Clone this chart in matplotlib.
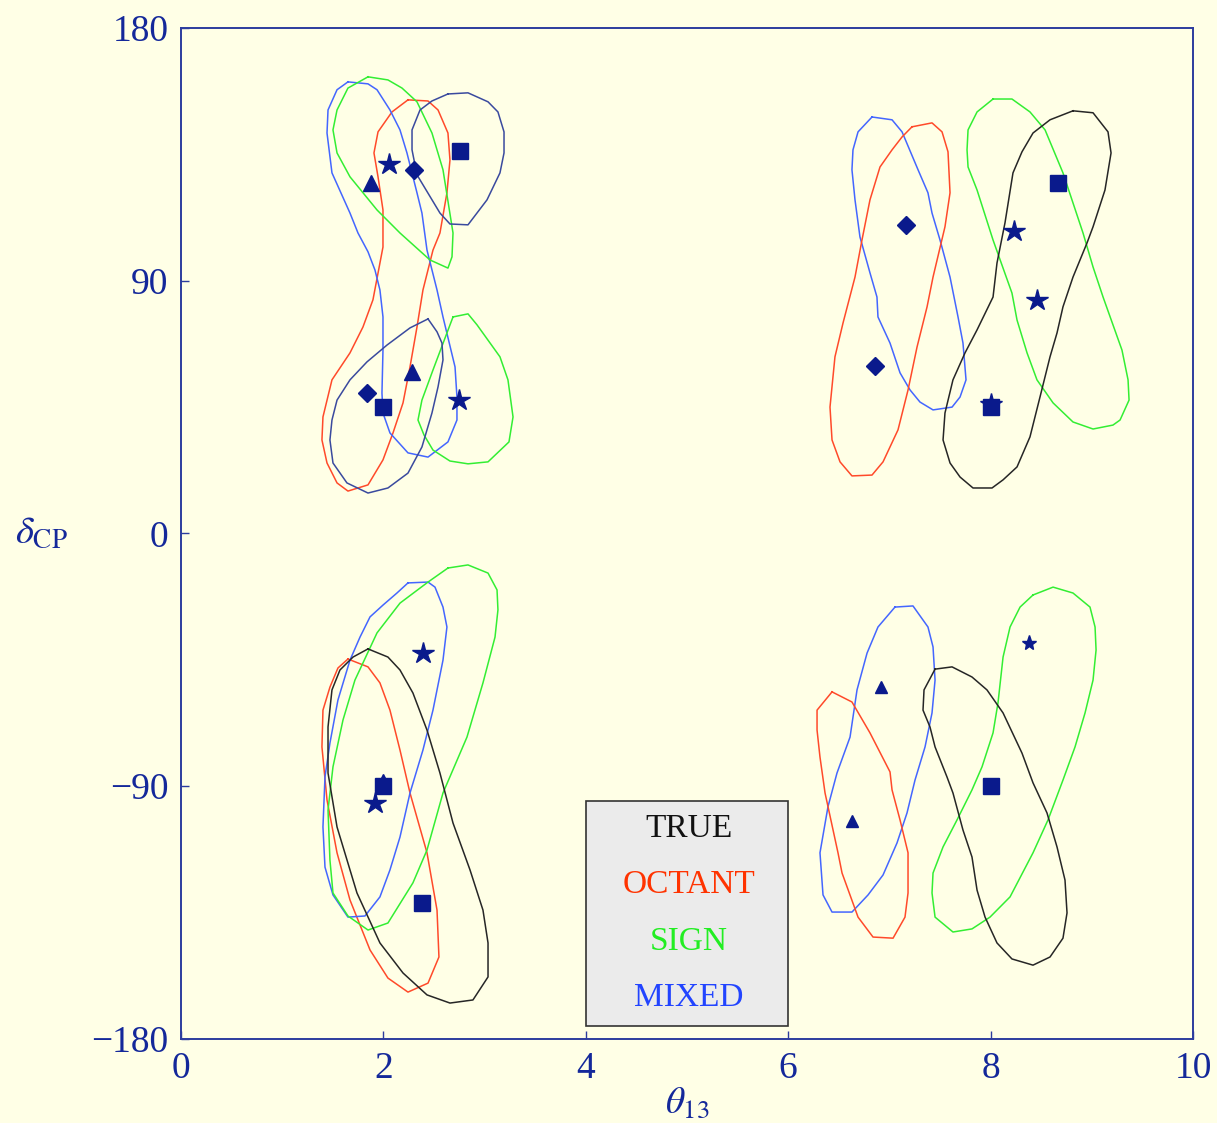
import matplotlib
matplotlib.use("Agg")
import matplotlib.pyplot as plt
from matplotlib.patches import Rectangle

plt.rcParams['font.family'] = ['Liberation Serif', 'DejaVu Serif']
plt.rcParams['mathtext.fontset'] = 'stix'

BG = '#FFFFE6'
NAVY = '#14289A'
MARK = '#0A1A8C'
SPINE = '#2C3C9E'

# colour of each contour family
COLORS = {
    'true': '#262626',
    'true_tl': '#3A4A9E',
    'octant': '#FF4A2A',
    'sign': '#33EE33',
    'mixed': '#4466FF',
}

# ---- allowed regions (theta13 [deg], delta_CP [deg]) ----
# upper-left group
tl_sign_hi_x = [1.848, 2.045, 2.184, 2.332, 2.480, 2.589, 2.688, 2.678, 2.638, 2.460, 2.164, 1.937, 1.670, 1.542, 1.502, 1.542, 1.650]
tl_sign_hi_y = [162.6, 161.5, 158.6, 153.7, 142.6, 129.5, 107.0, 98.5, 94.5, 97.4, 107.0, 115.2, 127.0, 135.5, 143.7, 150.8, 158.6]

tl_mixed_x = [1.650, 1.848, 1.937, 2.065, 2.164, 2.233, 2.332, 2.381, 2.431, 2.530, 2.589, 2.708, 2.727, 2.727, 2.638, 2.441, 2.243, 2.065, 1.996, 1.986, 1.996, 1.996, 1.966, 1.917, 1.848, 1.749, 1.670, 1.492, 1.443, 1.453, 1.542]
tl_mixed_y = [160.8, 160.1, 158.0, 150.8, 143.7, 135.5, 121.3, 114.1, 100.9, 86.7, 77.1, 59.3, 48.6, 40.4, 32.6, 27.2, 28.7, 35.8, 42.9, 50.0, 65.3, 77.1, 86.7, 93.8, 100.3, 107.0, 114.1, 128.4, 142.6, 150.8, 158.0]

tl_octant_x = [2.243, 2.441, 2.540, 2.638, 2.658, 2.628, 2.559, 2.490, 2.391, 2.332, 2.263, 2.194, 2.095, 1.996, 1.848, 1.650, 1.542, 1.443, 1.393, 1.403, 1.492, 1.670, 1.798, 1.897, 1.996, 1.996, 1.947, 1.907, 1.947, 2.085]
tl_octant_y = [154.4, 154.0, 150.8, 142.6, 133.0, 121.3, 107.0, 100.9, 86.7, 73.5, 59.3, 46.5, 35.8, 26.2, 17.3, 15.1, 18.0, 25.1, 33.3, 41.5, 54.7, 64.3, 73.5, 83.2, 102.0, 115.2, 127.0, 135.5, 143.0, 150.1]

tl_true_hi_x = [2.638, 2.836, 3.034, 3.132, 3.192, 3.192, 3.152, 3.024, 2.836, 2.658, 2.559, 2.332, 2.283, 2.283, 2.362, 2.480]
tl_true_hi_y = [156.5, 156.9, 153.7, 150.1, 143.0, 135.5, 128.4, 118.8, 109.9, 110.2, 114.1, 127.7, 136.6, 143.7, 150.8, 154.0]

tl_true_lo_x = [2.441, 2.530, 2.579, 2.589, 2.540, 2.480, 2.381, 2.243, 2.045, 1.848, 1.640, 1.502, 1.472, 1.492, 1.542, 1.670, 1.838, 2.036, 2.263]
tl_true_lo_y = [76.4, 71.8, 67.8, 61.8, 52.2, 42.9, 30.8, 21.5, 16.2, 14.4, 18.0, 25.1, 33.3, 40.4, 47.5, 54.7, 61.1, 67.1, 73.2]

tl_sign_lo_x = [2.688, 2.836, 2.925, 3.152, 3.231, 3.281, 3.241, 3.034, 2.836, 2.658, 2.490, 2.401, 2.342, 2.381, 2.490, 2.628]
tl_sign_lo_y = [77.1, 78.2, 74.3, 62.9, 54.7, 41.5, 32.6, 25.5, 24.8, 25.8, 29.7, 35.1, 40.4, 47.5, 58.2, 71.4]

# upper-right group
tr_mixed_x = [6.828, 7.026, 7.125, 7.283, 7.381, 7.421, 7.500, 7.599, 7.678, 7.727, 7.757, 7.698, 7.619, 7.431, 7.302, 7.204, 7.105, 7.006, 6.887, 6.877, 6.808, 6.709, 6.660, 6.630, 6.640, 6.690]
tr_mixed_y = [148.3, 147.3, 143.0, 129.5, 121.3, 114.1, 104.5, 91.3, 77.1, 67.8, 54.7, 48.6, 45.0, 44.0, 46.8, 51.1, 57.2, 67.8, 77.1, 84.2, 92.8, 105.6, 118.8, 129.5, 136.6, 143.0]

tr_octant_x = [7.223, 7.421, 7.520, 7.579, 7.599, 7.549, 7.431, 7.372, 7.273, 7.184, 7.085, 6.937, 6.828, 6.630, 6.512, 6.433, 6.413, 6.462, 6.542, 6.660, 6.729, 6.808, 6.907, 7.026, 7.125]
tr_octant_y = [144.8, 146.2, 143.0, 135.9, 121.3, 109.2, 91.3, 80.7, 66.4, 51.1, 36.9, 25.5, 20.8, 20.5, 25.5, 33.3, 45.0, 62.9, 75.0, 91.3, 104.5, 118.8, 130.5, 136.6, 141.2]

tr_sign_x = [8.024, 8.211, 8.389, 8.538, 8.715, 8.913, 9.012, 9.111, 9.298, 9.358, 9.368, 9.279, 9.209, 9.012, 8.814, 8.617, 8.458, 8.360, 8.261, 8.211, 8.024, 7.866, 7.777, 7.767, 7.777, 7.866]
tr_sign_y = [154.7, 154.7, 150.1, 143.7, 128.4, 107.0, 94.9, 84.2, 65.3, 54.7, 47.5, 40.4, 38.6, 37.2, 39.7, 46.5, 54.7, 64.3, 76.0, 85.6, 104.5, 122.3, 130.5, 136.6, 143.7, 150.1]

tr_true_x = [8.814, 9.012, 9.160, 9.190, 9.130, 9.012, 8.953, 8.814, 8.715, 8.656, 8.587, 8.488, 8.389, 8.261, 8.123, 8.014, 7.826, 7.698, 7.599, 7.530, 7.549, 7.628, 7.747, 7.866, 8.024, 8.063, 8.142, 8.221, 8.310, 8.419, 8.587]
tr_true_y = [150.5, 149.8, 143.0, 135.5, 122.3, 109.2, 103.5, 91.3, 80.7, 71.4, 62.9, 48.6, 34.4, 23.7, 19.1, 16.2, 16.2, 20.1, 25.1, 33.3, 42.9, 54.7, 64.3, 72.5, 84.2, 96.3, 110.6, 128.4, 135.9, 142.6, 147.3]

# lower-left group
bl_mixed_x = [2.243, 2.441, 2.510, 2.589, 2.628, 2.589, 2.490, 2.391, 2.263, 2.164, 2.065, 1.966, 1.818, 1.650, 1.502, 1.423, 1.403, 1.423, 1.472, 1.551, 1.670, 1.769, 1.868, 1.996, 2.134]
bl_mixed_y = [-17.6, -17.3, -19.1, -26.2, -33.3, -45.1, -62.9, -77.1, -92.4, -108.1, -119.8, -129.4, -136.2, -136.6, -128.7, -118.8, -104.5, -86.7, -74.6, -59.3, -45.1, -36.9, -29.7, -25.5, -21.2]

bl_sign_x = [2.638, 2.836, 3.034, 3.123, 3.132, 3.103, 2.984, 2.826, 2.589, 2.431, 2.292, 2.045, 1.848, 1.650, 1.502, 1.472, 1.453, 1.502, 1.601, 1.719, 1.937, 2.164, 2.441]
bl_sign_y = [-12.3, -11.2, -14.1, -20.1, -27.2, -36.9, -53.2, -72.5, -92.4, -112.7, -124.4, -138.7, -141.2, -136.2, -128.0, -116.3, -98.5, -83.1, -66.4, -52.2, -35.4, -24.8, -17.3]

bl_octant_x = [1.650, 1.848, 1.966, 2.065, 2.164, 2.263, 2.431, 2.530, 2.549, 2.441, 2.243, 2.045, 1.868, 1.670, 1.542, 1.443, 1.393, 1.403, 1.472, 1.551]
bl_octant_y = [-44.7, -47.5, -53.2, -62.9, -77.1, -92.4, -113.7, -134.1, -150.8, -160.1, -163.3, -158.3, -148.3, -130.5, -113.7, -94.9, -76.0, -62.9, -54.7, -47.9]

bl_true_x = [1.848, 2.045, 2.164, 2.292, 2.431, 2.559, 2.688, 2.856, 2.984, 3.034, 3.034, 2.885, 2.658, 2.431, 2.194, 1.966, 1.739, 1.542, 1.453, 1.453, 1.492, 1.571, 1.700]
bl_true_y = [-41.1, -44.0, -48.6, -56.8, -70.0, -85.3, -103.1, -119.8, -134.1, -145.8, -157.9, -166.1, -167.2, -164.3, -156.5, -145.8, -128.0, -104.5, -85.3, -68.9, -55.7, -48.6, -44.0]

# lower-right group
br_mixed_x = [7.055, 7.233, 7.381, 7.431, 7.451, 7.421, 7.352, 7.253, 7.174, 7.075, 6.937, 6.789, 6.630, 6.433, 6.344, 6.314, 6.393, 6.482, 6.611, 6.680, 6.779, 6.887]
br_mixed_y = [-26.2, -25.8, -33.3, -40.4, -52.2, -63.9, -76.0, -87.8, -99.5, -110.2, -121.6, -128.7, -134.8, -134.8, -128.7, -113.7, -97.3, -85.3, -72.5, -55.7, -42.6, -33.3]

br_octant_x = [6.433, 6.630, 6.808, 7.006, 7.026, 7.105, 7.184, 7.184, 7.154, 7.036, 6.838, 6.690, 6.532, 6.492, 6.364, 6.314, 6.285, 6.285]
br_octant_y = [-56.4, -60.0, -71.0, -84.9, -91.3, -102.0, -113.7, -128.0, -136.6, -144.1, -143.7, -136.6, -120.9, -113.7, -92.4, -79.6, -70.0, -62.9]

br_sign_x = [8.419, 8.617, 8.814, 8.982, 9.032, 9.042, 9.012, 8.933, 8.834, 8.715, 8.567, 8.419, 8.192, 7.994, 7.816, 7.628, 7.451, 7.421, 7.431, 7.530, 7.668, 7.816, 7.915, 8.024, 8.073, 8.123, 8.192, 8.291]
br_sign_y = [-21.9, -19.1, -21.2, -26.2, -33.3, -41.5, -52.2, -63.9, -76.0, -87.8, -102.0, -113.7, -129.4, -136.6, -140.8, -141.9, -136.6, -128.0, -120.9, -111.6, -102.0, -91.3, -83.1, -71.0, -60.3, -44.0, -33.3, -26.2]

br_true_x = [7.451, 7.619, 7.816, 7.964, 8.123, 8.310, 8.419, 8.557, 8.656, 8.735, 8.755, 8.715, 8.587, 8.419, 8.211, 8.063, 7.945, 7.866, 7.816, 7.727, 7.628, 7.569, 7.451, 7.401, 7.332, 7.342]
br_true_y = [-48.3, -47.5, -51.1, -55.7, -63.9, -78.2, -88.8, -99.5, -111.6, -123.4, -135.1, -144.1, -150.8, -153.7, -151.5, -145.8, -136.6, -127.0, -115.2, -105.6, -92.4, -86.7, -76.0, -68.9, -62.9, -55.7]

# ---- best-fit / true points ----
square_x = [2.757, 2.0, 8.666, 8.0, 2.0, 2.381, 8.0]
square_y = [136.2, 45.0, 124.8, 45.0, -90.0, -131.6, -90.0]
star_x = [2.055, 2.747, 8.231, 8.458, 8.0, 2.391, 1.917]
star_y = [131.6, 47.5, 107.7, 83.2, 46.0, -42.6, -96.0]
small_star_x = [8.379]
small_star_y = [-39.0]
diamond_x = [2.302, 1.838, 7.164, 6.858]
diamond_y = [129.5, 50.0, 109.9, 59.7]
triangle_x = [1.877, 2.283, 2.0]
triangle_y = [124.8, 57.5, -88.5]
small_triangle_x = [6.917, 6.630]
small_triangle_y = [-54.7, -102.4]

legend_labels = ['TRUE', 'OCTANT', 'SIGN', 'MIXED']
legend_colors = ['#111111', '#FF3300', '#22EE22', '#2244FF']

contours = [
    (tl_octant_x, tl_octant_y, 'octant'),
    (tl_mixed_x, tl_mixed_y, 'mixed'),
    (tl_sign_hi_x, tl_sign_hi_y, 'sign'),
    (tl_sign_lo_x, tl_sign_lo_y, 'sign'),
    (tl_true_hi_x, tl_true_hi_y, 'true_tl'),
    (tl_true_lo_x, tl_true_lo_y, 'true_tl'),
    (tr_mixed_x, tr_mixed_y, 'mixed'),
    (tr_octant_x, tr_octant_y, 'octant'),
    (tr_sign_x, tr_sign_y, 'sign'),
    (tr_true_x, tr_true_y, 'true'),
    (bl_octant_x, bl_octant_y, 'octant'),
    (bl_mixed_x, bl_mixed_y, 'mixed'),
    (bl_sign_x, bl_sign_y, 'sign'),
    (bl_true_x, bl_true_y, 'true'),
    (br_mixed_x, br_mixed_y, 'mixed'),
    (br_octant_x, br_octant_y, 'octant'),
    (br_sign_x, br_sign_y, 'sign'),
    (br_true_x, br_true_y, 'true'),
]

fig = plt.figure(figsize=(12.17, 11.23), dpi=100, facecolor=BG)
ax = fig.add_axes([0.1487, 0.0748, 0.8316, 0.9003], facecolor=BG)

for cx, cy, kind in contours:
    ax.plot(list(cx) + [cx[0]], list(cy) + [cy[0]], color=COLORS[kind], lw=1.1, zorder=2)

mk = dict(color=MARK, linestyle='none', zorder=4)
ax.plot(triangle_x, triangle_y, marker='^', markersize=11, **mk)
ax.plot(square_x, square_y, marker='s', markersize=11.5, **mk)
ax.plot(star_x, star_y, marker='*', markersize=16, **mk)
ax.plot(small_star_x, small_star_y, marker='*', markersize=11, **mk)
ax.plot(diamond_x, diamond_y, marker='D', markersize=9, **mk)
ax.plot(small_triangle_x, small_triangle_y, marker='^', markersize=9, **mk)

# legend panel
ax.add_patch(Rectangle((4.0, -175.4), 2.0, 80.1, facecolor='#EBEBEB',
                       edgecolor='#333333', lw=1.2, zorder=5))
for i, (lab, col) in enumerate(zip(legend_labels, legend_colors)):
    ax.text(5.02, -105.2 - i * 20.0, lab, color=col, fontsize=24,
            ha='center', va='center', zorder=6)

ax.set_xlim(0, 10)
ax.set_ylim(-180, 180)
ax.set_xticks([0, 2, 4, 6, 8, 10])
ax.set_yticks([-180, -90, 0, 90, 180])
ax.set_yticklabels(['\u2212180', '\u221290', '0', '90', '180'])
ax.tick_params(direction='in', length=6, width=1, color=SPINE,
               labelcolor=NAVY, labelsize=27, pad=9)
for s in ax.spines.values():
    s.set_color(SPINE)
    s.set_linewidth(1.4)

ax.set_xlabel(r'$\theta_{13}$', fontsize=27, color=NAVY, labelpad=0)
ax.set_ylabel(r'$\delta_{\mathrm{CP}}$', fontsize=28, color=NAVY,
              rotation=0, labelpad=36, va='center')

fig.savefig('out.png', dpi=100, facecolor=BG)
